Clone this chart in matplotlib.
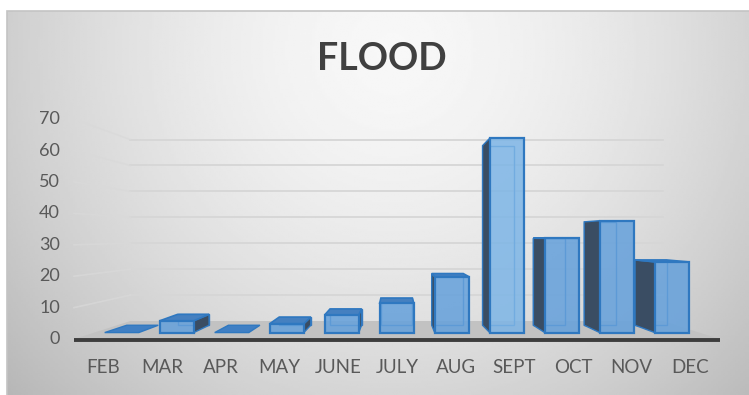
import numpy as np
import matplotlib.pyplot as plt
from matplotlib.patches import Polygon, Rectangle

# --- data ---
months = ['FEB', 'MAR', 'APR', 'MAY', 'JUNE', 'JULY', 'AUG', 'SEPT', 'OCT', 'NOV', 'DEC']
flood = [0, 4, 0, 3, 6, 10, 19, 66, 32, 38, 24]
yticks = [0, 10, 20, 30, 40, 50, 60, 70]
title = 'FLOOD'

# --- fake 3D setup (perspective towards a vanishing point) ---
VX, VY = 4.97, 32.8      # vanishing point in data units
SHRINK = 0.175           # scale loss from front (d=0) to back wall (d=1)
D0, D1 = 0.36, 0.766     # bar depth range
HALF_W = 0.31            # half bar width
X_LEFT, X_RIGHT = -0.5, len(months) - 0.5


def proj(x, v, d):
    s = 1 - SHRINK * d
    return VX + (x - VX) * s, VY + (v - VY) * s


W, H = 749, 395
fig = plt.figure(figsize=(W / 100, H / 100), dpi=100)
fig.patch.set_facecolor('white')

# background panel with soft gradient
bg = fig.add_axes([7 / W, 0, 1 - 7 / W, 1 - 11 / H])
gx, gy = np.meshgrid(np.linspace(0, 1, 300), np.linspace(0, 1, 200))
r = np.sqrt(((gx - 0.52) / 0.62) ** 2 + ((gy - 0.1) / 1.2) ** 2)
shade = 0.97 - 0.21 * np.clip(r, 0, 1.2) ** 1.6
bg.imshow(shade, cmap='gray', vmin=0, vmax=1, aspect='auto', extent=[0, 1, 1, 0])
bg.set_axis_off()
fig.patches.append(Rectangle((7 / W, -0.1), 1.1, 1 - 11 / H + 0.1, transform=fig.transFigure,
                             fill=False, edgecolor='#c4c4c4', lw=1.2))

ax = fig.add_axes([0, 0, 1, 1])
ax.set_xlim(-1.761, 10.999)
ax.set_ylim(-17.8, 107.9)
ax.patch.set_alpha(0)
ax.set_axis_off()

# floor
floor = [proj(X_LEFT, 0, 0), proj(X_RIGHT, 0, 0), proj(X_RIGHT, 0, 1), proj(X_LEFT, 0, 1)]
ax.add_patch(Polygon(floor, closed=True, facecolor='#c2c2c2', edgecolor='none', zorder=1))
ax.plot([X_LEFT, X_RIGHT], [-0.2, -0.2], color='#3d3d3d', lw=2.8, solid_capstyle='butt', zorder=2)

# gridlines on back and side wall
for v in yticks[1:]:
    bl, br = proj(X_LEFT, v, 1), proj(X_RIGHT, v, 1)
    fl = proj(X_LEFT, v, 0)
    ax.plot([bl[0], br[0]], [bl[1], br[1]], color='#d6d6d6', lw=1.3, zorder=1)
    ax.plot([fl[0], bl[0]], [fl[1], bl[1]], color='#d9d9d9', lw=1.2, alpha=0.7, zorder=1)

# tick labels
for v in yticks:
    ax.text(-0.74, v, str(v), ha='right', va='center', fontsize=13,
            color='#595959', family='Lato')
for i, m in enumerate(months):
    ax.text(i, -9.2, m, ha='center', va='center', fontsize=13.5,
            color='#595959', family='Lato')

ax.text(4.75, 89.2, title, ha='center', va='center', fontsize=27, fontweight='bold',
        color='#404040', family='Lato')

# bars, farthest from the vanishing point first
edge = '#2f78c0'
order = sorted(range(len(months)), key=lambda k: -abs(k - VX))
for i in order:
    v = flood[i]
    x0, x1 = i - HALF_W, i + HALF_W
    z = 3 + (len(months) - abs(i - VX))
    front = [proj(x0, 0, D0), proj(x1, 0, D0), proj(x1, v, D0), proj(x0, v, D0)]
    back = [proj(x0, 0, D1), proj(x1, 0, D1), proj(x1, v, D1), proj(x0, v, D1)]
    top = [proj(x0, v, D0), proj(x1, v, D0), proj(x1, v, D1), proj(x0, v, D1)]
    if v == 0:
        ax.add_patch(Polygon(top, closed=True, facecolor='#3f7fc4', edgecolor=edge,
                             lw=1.0, zorder=z))
        continue
    # back edges seen through the glass
    ax.add_patch(Polygon(back, closed=True, fill=False, edgecolor='#3a7cc0', lw=1.0, zorder=z))
    # side face
    sx = x0 if i > VX else x1
    side = [proj(sx, 0, D0), proj(sx, v, D0), proj(sx, v, D1), proj(sx, 0, D1)]
    if abs(i - VX) > 0.2:
        ax.add_patch(Polygon(side, closed=True, facecolor='#3a4d63', edgecolor=edge,
                             lw=1.0, zorder=z + 0.1))
    if v < VY:
        ax.add_patch(Polygon(top, closed=True, facecolor='#4580c0', edgecolor=edge,
                             lw=1.2, zorder=z + 0.2))
    fc = '#7db5e6' if v > 50 else '#64a0db'
    ax.add_patch(Polygon(front, closed=True, facecolor=fc, edgecolor='none', alpha=0.85,
                         zorder=z + 0.3))
    ax.add_patch(Polygon(front, closed=True, fill=False, edgecolor=edge, lw=1.6,
                         zorder=z + 0.4))

fig.savefig('out.png', dpi=100)
